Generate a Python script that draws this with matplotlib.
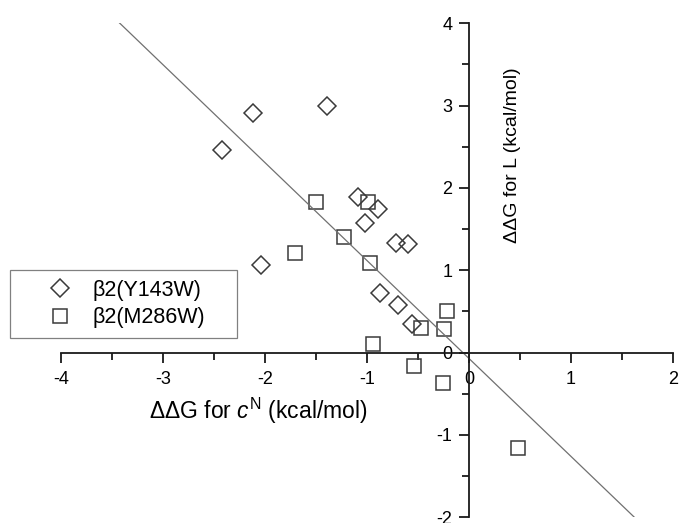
import matplotlib
matplotlib.use('Agg')
import matplotlib.pyplot as plt
from matplotlib.ticker import MultipleLocator
import numpy as np

# diamonds: beta2(Y143W)
y143w_x = [-2.42, -2.12, -1.39, -2.04, -1.09, -0.89, -1.02, -0.71, -0.60, -0.87, -0.69, -0.56]
y143w_y = [2.46, 2.91, 2.99, 1.06, 1.89, 1.75, 1.58, 1.33, 1.32, 0.72, 0.58, 0.35]

# squares: beta2(M286W)
m286w_x = [-1.50, -0.99, -1.22, -1.70, -0.97, -0.47, -0.24, -0.21, -0.94, -0.54, -0.25, 0.48]
m286w_y = [1.83, 1.83, 1.40, 1.21, 1.09, 0.30, 0.29, 0.50, 0.11, -0.16, -0.37, -1.16]

# fitted line
fit_slope = -1.19
fit_intercept = -0.07

plt.rcParams['font.family'] = ['Liberation Sans', 'DejaVu Sans']
plt.rcParams['mathtext.fontset'] = 'custom'
plt.rcParams['mathtext.rm'] = 'Liberation Sans'
plt.rcParams['mathtext.it'] = 'Liberation Sans:italic'
plt.rcParams['axes.unicode_minus'] = False

W, H = 679, 523
fig = plt.figure(figsize=(W / 100, H / 100), dpi=100)
ax = fig.add_axes([60.7 / W, 1 - 517.3 / H, 612.3 / W, 494 / H])

mk = dict(ls='none', mfc='none', mec='#3a3a3a', mew=1.1, ms=9.6)
ax.plot(y143w_x, y143w_y, marker='D', label='\u03b22(Y143W)', **mk)
ax.plot(m286w_x, m286w_y, marker='s', label='\u03b22(M286W)', **mk)

xs = np.array([-4, 2])
ax.plot(xs, fit_slope * xs + fit_intercept, color='#707070', lw=0.9)

ax.set_xlim(-4, 2)
ax.set_ylim(-2, 4)

for side in ['top', 'right']:
    ax.spines[side].set_visible(False)
ax.spines['left'].set_position(('data', 0))
ax.spines['bottom'].set_position(('data', 0))
for side in ['left', 'bottom']:
    ax.spines[side].set_linewidth(1.3)
    ax.spines[side].set_color('#1a1a1a')

ax.xaxis.set_major_locator(MultipleLocator(1))
ax.xaxis.set_minor_locator(MultipleLocator(0.5))
ax.yaxis.set_major_locator(MultipleLocator(1))
ax.yaxis.set_minor_locator(MultipleLocator(0.5))
ax.tick_params(which='major', direction='out', length=7, width=1.3, labelsize=13, color='#1a1a1a')
ax.tick_params(which='minor', direction='out', length=5, width=1.3, color='#1a1a1a')
ax.tick_params(axis='x', which='major', pad=6.5)
ax.tick_params(axis='y', which='major', pad=5)

ax.set_xlabel(r'ΔΔG for $c^{\mathrm{N}}$ (kcal/mol)', fontsize=16.5)
ax.xaxis.set_label_coords(0.322, 0.245)
ax.set_ylabel('ΔΔG for L (kcal/mol)', fontsize=14)
ax.yaxis.set_label_coords(0.752, 0.733)

leg = ax.legend(loc='lower left', bbox_to_anchor=(10 / W, 1 - 338 / H, 227 / W, 69 / H),
                bbox_transform=fig.transFigure, mode='expand', borderaxespad=0, fontsize=15.5,
                fancybox=False, edgecolor='#808080', framealpha=1,
                handlelength=3.7, handletextpad=-0.3, borderpad=0.45, labelspacing=0.3)
leg.get_frame().set_linewidth(0.9)

fig.savefig('out.png', dpi=100)
